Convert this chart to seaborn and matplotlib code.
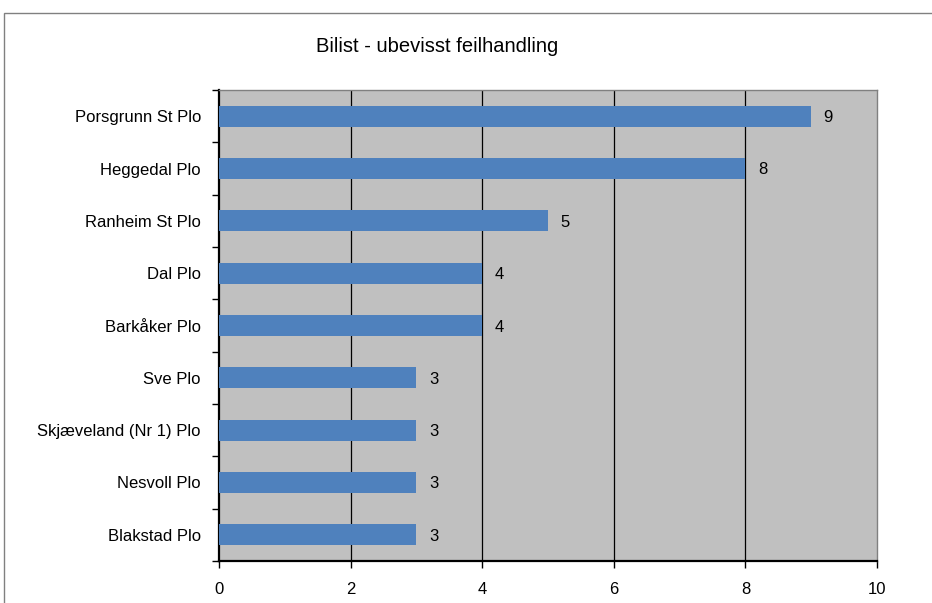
import matplotlib
matplotlib.use("Agg")
import matplotlib.pyplot as plt
from matplotlib.patches import Rectangle
import seaborn as sns
import pandas as pd
import numpy as np

stations = ["Porsgrunn St Plo", "Heggedal Plo", "Ranheim St Plo", "Dal Plo",
            "Barkåker Plo", "Sve Plo", "Skjæveland (Nr 1) Plo", "Nesvoll Plo",
            "Blakstad Plo"]
counts = [9, 8, 5, 4, 4, 3, 3, 3, 3]
x_ticks = [0, 2, 4, 6, 8, 10]

df = pd.DataFrame({"stasjon": stations, "antall": counts})

sns.set_theme(style="white")
plt.rcParams["font.family"] = ["Liberation Sans", "DejaVu Sans"]

W, H = 932, 603
fig = plt.figure(figsize=(W / 100, H / 100), dpi=100)
ax = fig.add_axes([219 / W, 1 - 561 / H, (877 - 219) / W, (561 - 90) / H])

# chart frame around the whole drawing area
fig.patches.append(Rectangle((4 / W, -0.1), 1.2, 1 - 13 / H + 0.1,
                             transform=fig.transFigure, fill=False,
                             edgecolor="#808080", linewidth=1.0, clip_on=False))

ax.set_facecolor("#C0C0C0")
sns.barplot(data=df, x="antall", y="stasjon", order=stations, orient="h",
            color="#4F81BD", saturation=1, width=0.4, linewidth=0,
            ax=ax, zorder=3)

ax.set_xlim(0, 10)
ax.set_ylim(len(stations) - 0.5, -0.5)
ax.set_xticks(x_ticks)
ax.set_xticklabels([str(t) for t in x_ticks])
for t in x_ticks[1:-1]:
    ax.axvline(t, color="#000000", linewidth=0.9, zorder=1)

ax.set_xlabel("")
ax.set_ylabel("")

for i, v in enumerate(counts):
    ax.annotate(str(v), xy=(v, i), xytext=(9, 0), textcoords="offset points",
                ha="left", va="center_baseline", fontsize=12, color="black")

for side in ["top", "right"]:
    ax.spines[side].set_color("#808080")
    ax.spines[side].set_linewidth(1.0)
for side in ["left", "bottom"]:
    ax.spines[side].set_color("black")
    ax.spines[side].set_linewidth(1.6)

ax.set_yticks(np.arange(len(stations) + 1) - 0.5, minor=True)
ax.tick_params(axis="y", which="major", length=0, pad=13, labelsize=12,
               colors="black")
ax.tick_params(axis="y", which="minor", left=True, length=5, width=1.0,
               color="black")
ax.tick_params(axis="x", which="major", bottom=True, length=5, width=1.0,
               pad=10, labelsize=12, colors="black")

fig.text(437 / W, 1 - 46 / H, "Bilist - ubevisst feilhandling",
         ha="center", va="center", fontsize=14.5, color="black")

fig.savefig("out.png", dpi=100)
